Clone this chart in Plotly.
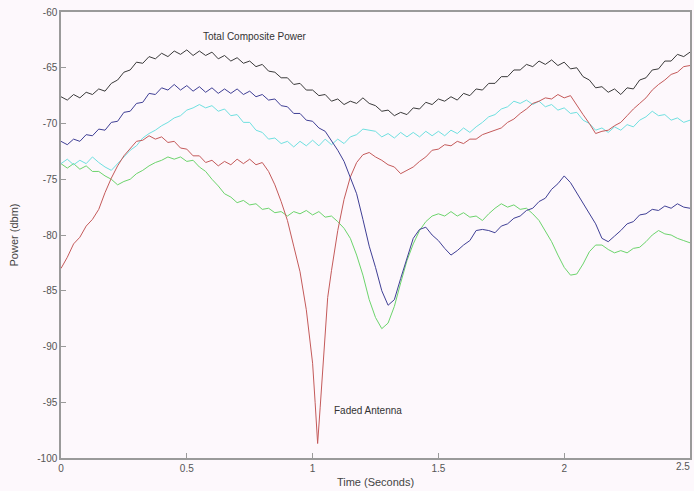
import plotly.graph_objects as go

# shared time base (seconds)
time_s = [round(i * 0.025, 3) for i in range(101)]

total_power = [
    -67.6, -67.9, -67.4, -67.7, -67.2, -67.4, -66.9, -67.1, -66.4, -66.1,
    -65.4, -65.2, -64.5, -64.6, -64.0, -64.2, -63.7, -64.0, -63.5, -63.8,
    -63.4, -63.9, -63.5, -63.9, -63.6, -64.2, -63.9, -64.4, -64.1, -64.6,
    -64.4, -64.9, -64.7, -65.3, -65.4, -65.9, -65.9, -66.5, -66.4, -67.0,
    -67.0, -67.5, -67.4, -68.0, -67.8, -68.3, -68.0, -68.2, -67.7, -68.2,
    -68.4, -68.9, -68.8, -69.3, -69.0, -69.2, -68.6, -68.7, -68.1, -68.3,
    -67.8, -68.0, -67.6, -67.9, -67.3, -67.5, -66.9, -67.0, -66.4, -66.4,
    -65.8, -65.8, -65.2, -65.2, -64.7, -64.9, -64.4, -64.7, -64.3, -64.8,
    -64.5, -65.1, -65.0, -65.8, -66.1, -66.8, -66.7, -67.2, -66.9, -67.4,
    -66.8, -66.9, -66.1, -65.9, -65.2, -65.1, -64.4, -64.4, -63.8, -64.0,
    -63.6,
]

blue_power = [
    -71.6, -71.9, -71.4, -71.6, -71.0, -71.1, -70.5, -70.6, -69.9, -69.8,
    -69.0, -68.9, -68.2, -68.1, -67.3, -67.4, -66.8, -67.0, -66.5, -67.0,
    -66.6, -67.1, -66.7, -67.2, -66.8, -67.3, -66.9, -67.3, -66.9, -67.4,
    -67.1, -67.6, -67.4, -67.9, -67.8, -68.4, -68.5, -69.1, -69.1, -69.7,
    -69.8, -70.4, -70.7, -71.5, -72.4, -73.4, -74.8, -76.3, -78.6, -81.0,
    -82.9, -85.0, -86.3, -85.8, -83.9, -82.0, -80.3, -79.5, -79.3, -80.0,
    -80.5, -81.2, -81.8, -81.4, -80.9, -80.5, -79.6, -79.5, -79.6, -79.8,
    -79.2, -79.0, -78.5, -78.3, -77.8, -77.6, -77.0, -76.7, -75.9, -75.4,
    -74.7, -75.3, -76.2, -77.1, -78.0, -79.0, -80.3, -80.6, -80.1, -79.6,
    -79.0, -78.8, -78.2, -78.1, -77.7, -77.8, -77.4, -77.6, -77.2, -77.5,
    -77.6,
]

cyan_power = [
    -73.6, -73.2, -73.7, -73.3, -73.6, -73.0, -73.5, -73.9, -74.2, -73.6,
    -73.0, -72.4, -72.0, -71.3, -70.9, -70.6, -70.2, -69.9, -69.5, -69.3,
    -68.8, -68.6, -68.3, -68.6, -68.4, -68.9, -68.7, -69.3, -69.2, -69.9,
    -69.9, -70.6, -70.8, -71.4, -71.3, -71.8, -71.6, -72.1, -71.6, -72.0,
    -71.5, -72.0, -71.4, -71.9, -71.4, -71.8, -71.2, -71.0, -70.5, -70.6,
    -70.7, -71.2, -70.9, -71.3, -70.8, -71.2, -70.8, -71.2, -70.7, -71.1,
    -70.7, -71.1, -70.6, -70.9, -70.4, -70.8, -70.3, -69.9, -69.4, -69.2,
    -68.7, -68.5, -68.0, -68.2, -67.9, -68.3, -68.0, -68.5, -68.3, -68.8,
    -68.6, -69.1, -69.0, -69.7, -70.0, -70.6, -70.4, -70.8, -70.3, -70.6,
    -70.1, -70.3, -69.7, -69.4, -68.9, -69.3, -69.2, -69.7, -69.5, -69.9,
    -69.7,
]

green_power = [
    -73.6, -74.0, -73.6, -74.1, -73.8, -74.3, -74.3, -74.7, -75.0, -75.5,
    -75.2, -75.0, -74.5, -74.2, -73.8, -73.5, -73.3, -73.0, -73.2, -73.0,
    -73.4, -73.3, -73.9, -74.3, -75.0, -75.6, -76.3, -76.6, -77.1, -76.9,
    -77.3, -77.2, -77.7, -77.6, -78.0, -77.9, -78.3, -77.9, -78.1, -77.8,
    -78.2, -77.9, -78.4, -78.3, -78.8, -79.4, -80.3, -81.8, -83.6, -85.8,
    -87.4, -88.4, -87.9, -86.4, -84.3, -82.3, -80.8, -79.6, -78.8, -78.3,
    -78.1, -78.3, -77.9, -78.3, -78.0, -78.4, -78.3, -78.7, -78.1, -77.6,
    -77.2, -77.5, -77.3, -77.7, -77.6, -78.1, -78.7, -79.6, -80.6, -81.8,
    -82.9, -83.6, -83.5, -82.6, -81.5, -80.9, -80.9, -81.3, -81.6, -81.4,
    -81.6, -81.2, -81.1, -80.6, -80.0, -79.6, -79.9, -80.0, -80.3, -80.5,
    -80.7,
]

# faded antenna has extra samples around the deep fade
red_time = [
    0.0, 0.025, 0.05, 0.075, 0.1, 0.125, 0.15, 0.175, 0.2, 0.225,
    0.25, 0.275, 0.3, 0.325, 0.35, 0.375, 0.4, 0.425, 0.45, 0.475,
    0.5, 0.525, 0.55, 0.575, 0.6, 0.625, 0.65, 0.675, 0.7, 0.725,
    0.75, 0.775, 0.8, 0.825, 0.85, 0.875, 0.9, 0.925, 0.95, 0.975,
    1.0, 1.01, 1.02, 1.03, 1.04, 1.05, 1.06, 1.075, 1.09, 1.1,
    1.125, 1.15, 1.175, 1.2, 1.225, 1.25, 1.275, 1.3, 1.325, 1.35,
    1.375, 1.4, 1.425, 1.45, 1.475, 1.5, 1.525, 1.55, 1.575, 1.6,
    1.625, 1.65, 1.675, 1.7, 1.725, 1.75, 1.775, 1.8, 1.825, 1.85,
    1.875, 1.9, 1.925, 1.95, 1.975, 2.0, 2.025, 2.05, 2.075, 2.1,
    2.125, 2.15, 2.175, 2.2, 2.225, 2.25, 2.275, 2.3, 2.325, 2.35,
    2.375, 2.4, 2.425, 2.45, 2.475, 2.5,
]
red_power = [
    -83.0, -82.0, -80.8, -80.2, -79.2, -78.6, -77.7, -76.2, -74.9, -73.8,
    -72.9, -72.2, -71.6, -71.5, -71.1, -71.4, -71.2, -71.7, -71.6, -72.2,
    -72.3, -72.9, -72.9, -73.5, -73.3, -73.8, -73.4, -73.7, -73.2, -73.6,
    -73.2, -73.7, -73.5, -74.3, -75.5, -77.0, -78.7, -81.0, -83.3, -86.7,
    -91.5, -95.0, -98.7, -95.5, -92.5, -89.0, -85.6, -83.2, -81.1, -79.6,
    -76.8, -74.8, -73.5, -72.8, -72.6, -73.0, -73.3, -73.7, -73.9, -74.5,
    -74.2, -73.9, -73.4, -73.0, -72.4, -72.3, -71.9, -72.0, -71.6, -71.8,
    -71.4, -71.4, -71.0, -70.8, -70.6, -70.4, -69.9, -69.6, -69.1, -68.7,
    -68.2, -68.0, -67.7, -67.8, -67.4, -67.7, -67.5, -68.4, -69.2, -70.0,
    -70.9, -70.7, -70.6, -70.2, -69.9, -69.3, -68.7, -68.2, -67.7, -67.0,
    -66.5, -66.1, -65.6, -65.4, -64.9, -64.8,
]

x_ticks = [0, 0.5, 1, 1.5, 2, 2.5]
x_tick_labels = ["0", "0.5", "1", "1.5", "2", "2.5"]
y_ticks = [-100, -95, -90, -85, -80, -75, -70, -65, -60]
y_tick_labels = ["-100", "-95", "-90", "-85", "-80", "-75", "-70", "-65", "-60"]

fig = go.Figure()
series = [
    (time_s, green_power, "#6cd46c"),
    (time_s, cyan_power, "#6fe0e0"),
    (red_time, red_power, "#c45a5a"),
    (time_s, blue_power, "#3f3f95"),
    (time_s, total_power, "#3a3a3a"),
]
for xs, ys, col in series:
    fig.add_trace(go.Scatter(x=xs, y=ys, mode="lines",
                             line=dict(color=col, width=1), showlegend=False,
                             hoverinfo="skip", cliponaxis=False))

label_font = dict(family="Arial, Liberation Sans", size=10, color="#333")
fig.add_annotation(x=0.77, y=-62.2, text="Total Composite Power", showarrow=False,
                   font=label_font)
fig.add_annotation(x=1.077, y=-95.7, text="Faded Antenna", showarrow=False,
                   xanchor="left", font=label_font)
# last x tick label, kept inside the page edge
fig.add_annotation(x=x_ticks[-1], xref="x", y=0, yref="paper", yanchor="top",
                   xanchor="right", xshift=2, yshift=-1, text=x_tick_labels[-1],
                   showarrow=False,
                   font=dict(family="Arial, Liberation Sans", size=10, color="#555"))

axis_common = dict(showline=True, mirror=True, linecolor="#9a9a9a", linewidth=1.5,
                   ticks="inside", ticklen=5, tickcolor="#9a9a9a",
                   showgrid=False, zeroline=False, automargin=False,
                   tickfont=dict(family="Arial, Liberation Sans", size=10, color="#555"))

fig.update_layout(
    width=694, height=491,
    margin=dict(l=61, r=4, t=12, b=33),
    paper_bgcolor="#fdf8fc", plot_bgcolor="#fdf8fc",
    xaxis=dict(range=[0, 2.5], tickvals=x_ticks, ticktext=x_tick_labels,
               title=dict(text="Time (Seconds)", standoff=6,
                          font=dict(family="Arial, Liberation Sans", size=11, color="#444")),
               **axis_common),
    yaxis=dict(range=[-100, -60], tickvals=y_ticks, ticktext=y_tick_labels,
               title=dict(text="Power (dbm)", standoff=16,
                          font=dict(family="Arial, Liberation Sans", size=11, color="#444")),
               **axis_common),
)

fig.write_html(
    "out.html",
    config={"displayModeBar": False},
    post_script="document.body.style.margin='0';document.body.style.background='#fdf8fc';",
)
